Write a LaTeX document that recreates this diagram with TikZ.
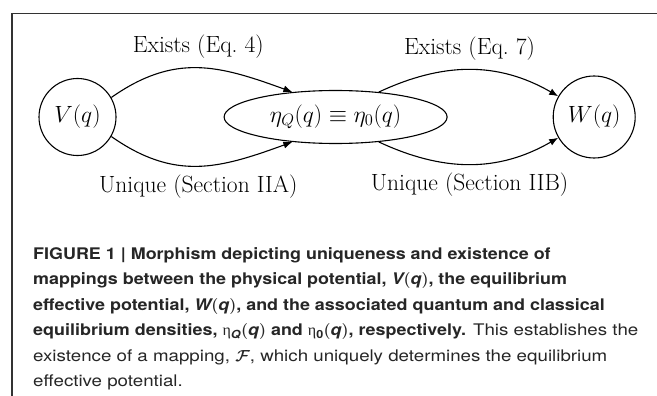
\RequirePackage{fix-cm}
\documentclass[tikz,border=0pt]{standalone}
\usepackage{amssymb,amsmath}
\usepackage{bm}
\usepackage{fontspec}
\newfontfamily\capfont[FakeStretch=1.17]{TeX Gyre Heros}
\newfontfamily\capbf[FakeStretch=1.12]{TeX Gyre Heros}
\newfontfamily\grkfont{Liberation Serif}
\usetikzlibrary{shapes.geometric, arrows.meta, positioning}

\newcommand{\bigfont}{\fontsize{23.5}{28}\selectfont}
\newcommand{\capvar}[1]{{\bfseries\itshape #1}}
\newcommand{\capfn}[1]{$\bm{(}$\capvar{#1}$\bm{)}$}
\newcommand{\capeta}[1]{{\grkfont\mdseries η}\textsubscript{#1}}

\begin{document}
\begin{tikzpicture}[x=1pt, y=-1pt,
    % Define styles for the nodes
    state_node/.style={circle, draw=black, line width=1.1pt, inner sep=0pt, font=\bigfont},
    dens_node/.style={ellipse, draw=black, line width=1.1pt, inner sep=0pt, minimum width=223pt, minimum height=53pt, font=\bigfont},
    label_node/.style={inner sep=0pt, font=\bigfont},
    caption_node/.style={inner sep=0pt, align=left, font=\capfont\fontsize{16}{25.5}\selectfont, text=black!85},
    % Styles for arrows and frame
    arrow/.style={-{Latex[length=9pt, width=7pt]}, line width=1.1pt},
    frame/.style={line width=1.5pt, black!80}
]
    \useasboundingbox (0,0) rectangle (657,396);

    % =========================================================================
    % FRAME (top and left edges)
    % =========================================================================
    \draw [frame] (657,13.5) -- (12,13.5) -- (12,396);

    % =========================================================================
    % POTENTIALS AND DENSITIES
    % =========================================================================
    \node (v_pot) [state_node, minimum size=77pt] at (77.5,117) {$V(q)$};

    \node (eta_dens) [dens_node, right=107pt of v_pot] {$\eta_Q(q) \equiv \eta_0(q)$};

    \node (w_pot) [state_node, minimum size=82pt, right=105pt of eta_dens] {$W(q)$};

    % =========================================================================
    % MAPPINGS (existence above, uniqueness below)
    % =========================================================================
    \draw [arrow] (v_pot.30) to[out=35, in=160, looseness=1.1] node[label_node, above=9pt] (exists_a) {Exists (Eq.~4)} (eta_dens.150);
    \draw [arrow] (v_pot.-30) to[out=-35, in=-160, looseness=1.1] node[label_node, below=8pt] (unique_a) {Unique (Section IIA)} (eta_dens.-150);

    \draw [arrow] (eta_dens.30) to[out=25, in=150] node[label_node, above=9pt] (exists_b) {Exists (Eq.~7)} (w_pot.150);
    \draw [arrow] (eta_dens.-30) to[out=-25, in=-150] node[label_node, below=8pt] (unique_b) {Unique (Section IIB)} (w_pot.-150);

    % =========================================================================
    % CAPTION
    % =========================================================================
    \node (fig_caption) [caption_node, anchor=north west] at (33,247) {%
        {\capbf\bfseries FIGURE 1 | Morphism depicting uniqueness and existence of}\\
        {\capbf\bfseries mappings between the physical potential, \capvar{V}\capfn{q}, the equilibrium}\\
        {\capbf\bfseries effective potential, \capvar{W}\capfn{q}, and the associated quantum and classical}\\
        {\capbf\bfseries equilibrium densities, \capeta{\capvar{Q}}\capfn{q} and \capeta{\textbf{0}}\capfn{q}, respectively.} This establishes the\\
        existence of a mapping, $\bm{\mathcal{F}}$, which uniquely determines the equilibrium\\
        effective potential.};

\end{tikzpicture}
\end{document}
